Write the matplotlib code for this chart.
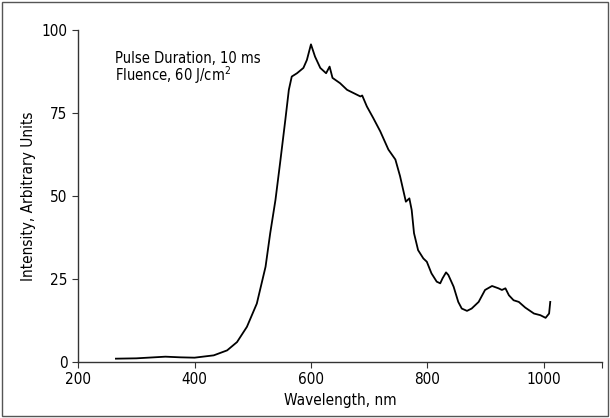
import numpy as np
import matplotlib.pyplot as plt
from matplotlib.patches import Rectangle

# spectrum
wavelength = [265, 300, 350, 376, 400, 433, 456, 473, 490, 507, 522, 530, 539, 547, 556,
              562, 567, 576, 587, 593, 600, 607, 616, 626, 632, 637, 650, 662, 685, 688,
              696, 707, 719, 733, 745, 753, 763, 769, 773, 777, 784, 793, 799, 807, 816,
              822, 826, 832, 836, 845, 853, 859, 868, 876, 888, 899, 911, 922, 928, 934,
              940, 948, 957, 968, 983, 994, 1003, 1009, 1011]
intensity = [1.0, 1.1, 1.6, 1.4, 1.3, 2.0, 3.5, 6.0, 10.6, 17.6, 28.7, 38.8, 48.8, 60, 73,
             82, 86, 87, 88.6, 91, 95.7, 92, 88.6, 87, 89, 85.6, 84, 82, 80, 80.3,
             77, 73.5, 69.5, 64, 61, 56, 48.3, 49.3, 45.8, 38.8, 33.7, 31.2, 30.2, 26.7, 24.2,
             23.7, 25.2, 27, 26.2, 22.7, 18.1, 16.1, 15.4, 16.1, 18.1, 21.7, 22.9, 22.2, 21.7, 22.2,
             20.1, 18.6, 18.1, 16.4, 14.6, 14.1, 13.3, 14.6, 18.1]

x_ticks = [200, 400, 600, 800, 1000, 1100]
x_labels = ['200', '400', '600', '800', '1000', '']
y_ticks = [0, 25, 50, 75, 100]

plt.rcParams['font.family'] = ['DejaVu Sans']
plt.rcParams['font.stretch'] = 'condensed'

fig = plt.figure(figsize=(6.1, 4.18), dpi=100)
ax = fig.add_axes([0.128, 0.134, 0.859, 0.794])

ax.plot(wavelength, intensity, color='black', lw=1.3)

ax.set_xlim(200, 1100)
ax.set_ylim(0, 100)
ax.set_xticks(x_ticks)
ax.set_xticklabels(x_labels)
ax.set_yticks(y_ticks)
for s in ['top', 'right']:
    ax.spines[s].set_visible(False)
for s in ['left', 'bottom']:
    ax.spines[s].set_color('#333333')
    ax.spines[s].set_linewidth(1.0)
ax.tick_params(direction='out', length=4, color='#333333', labelsize=11)
ax.set_xlabel('Wavelength, nm', fontsize=11)
ax.set_ylabel('Intensity, Arbitrary Units', fontsize=11)

ax.text(263, 91.5, 'Pulse Duration, 10 ms', fontsize=10.5, va='center')
ax.text(263, 86.3, 'Fluence, 60 J/cm$^2$', fontsize=10.5, va='center')

# outer frame around the whole figure
fig.patches.append(Rectangle((0.004, 0.004), 0.992, 0.992, transform=fig.transFigure,
                             fill=False, edgecolor='#555555', lw=1.0))

fig.savefig('out.png', dpi=100)
